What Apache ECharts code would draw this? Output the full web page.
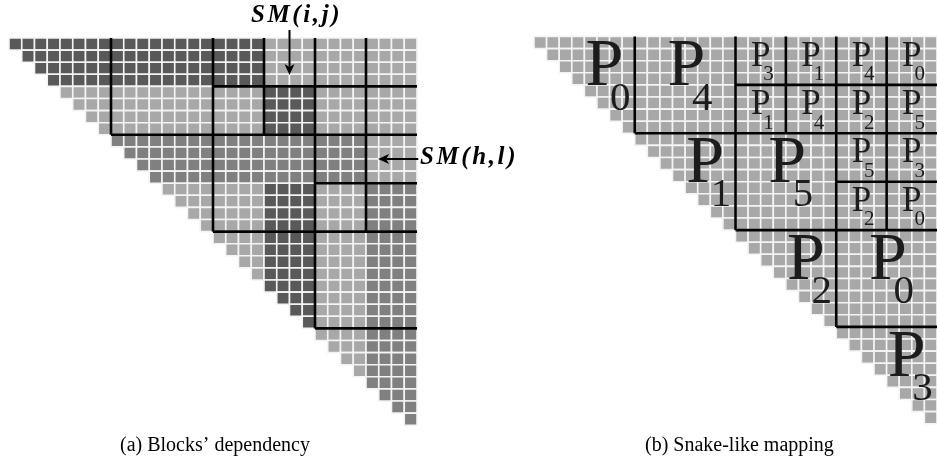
<!DOCTYPE html>
<html>
<head>
<meta charset="utf-8">
<script src="https://cdn.jsdelivr.net/npm/echarts@6/dist/echarts.min.js"></script>
<style>
  html, body { margin: 0; padding: 0; background: #fff; }
  #main { width: 937px; height: 468px; }
</style>
</head>
<body>
<div id="main"></div>
<script>
const N = 32;      // cells per side of the matrix
const SUB = 4;     // cells per small block

// shade of every 4x4 block, row blocks top->bottom, col blocks left->right
// d = dark, m = medium, l = light, - = empty (below diagonal)
const leftShade = [
  'dddddlll',
  '-lllldll',
  '--mmmmml',
  '---lldlm',
  '----ldlm',
  '-----dlm',
  '------lm',
  '-------m'
];
const rightShade = [
  'llllllll',
  '-lllllll',
  '--llllll',
  '---lllll',
  '----llll',
  '-----lll',
  '------ll',
  '-------l'
];

// thick block borders in cell units: [x1, y1, x2, y2]
const borders = [
  [8, 0, 8, 8], [8, 8, 32, 8],
  [16, 0, 16, 16], [16, 16, 32, 16],
  [24, 0, 24, 24], [24, 24, 32, 24],
  [20, 0, 20, 8], [16, 4, 32, 4],
  [28, 0, 28, 16], [24, 12, 32, 12]
];

// processor of each 8x8 block: [block row, block col, processor]
const bigBlocks = [
  [0, 0, 0], [0, 1, 4],
  [1, 1, 1], [1, 2, 5],
  [2, 2, 2], [2, 3, 0],
  [3, 3, 3]
];
// processor of each 4x4 block: [block row, block col, processor]
const smallBlocks = [
  [0, 4, 3], [0, 5, 1], [0, 6, 4], [0, 7, 0],
  [1, 4, 1], [1, 5, 4], [1, 6, 2], [1, 7, 5],
  [2, 6, 5], [2, 7, 3],
  [3, 6, 2], [3, 7, 0]
];

// dependency arrows on the left matrix: [x1, y1, x2(tip), y2(tip)]
const arrows = [
  [22, -0.66, 22, 3.05],
  [32.1, 10, 28.95, 10]
];

const COLORS = ['#595959', '#808080', '#a8a8a8'];
const SERIF = '"Liberation Serif", "DejaVu Serif", serif';

function cellsFrom(shade) {
  const out = [];
  for (let r = 0; r < N; r++) {
    for (let c = r; c < N; c++) {
      const k = shade[Math.floor(r / SUB)][Math.floor(c / SUB)];
      out.push([c, r, 'dml'.indexOf(k)]);
    }
  }
  return out;
}

function labelData() {
  const out = [];
  bigBlocks.forEach(([br, bc, p]) => {
    const diag = br === bc;
    const px = bc * 8 + (diag ? 5.6 : 4.1);
    out.push([px, br * 8 + 2.55, px + 1.25, br * 8 + 5.15, p, 1]);
  });
  smallBlocks.forEach(([br, bc, p]) => {
    const px = bc * 4 + 2.0;
    out.push([px, br * 4 + 1.65, px + 0.63, br * 4 + 3.15, p, 0]);
  });
  return out;
}

function cellItem(params, api) {
  const a = api.coord([api.value(0), api.value(1)]);
  const b = api.coord([api.value(0) + 1, api.value(1) + 1]);
  return {
    type: 'rect',
    shape: { x: a[0], y: a[1], width: b[0] - a[0], height: b[1] - a[1] },
    style: { fill: COLORS[api.value(2)], stroke: '#f4f4f4', lineWidth: 1.6 }
  };
}

function borderItem(params, api) {
  const a = api.coord([api.value(0), api.value(1)]);
  const b = api.coord([api.value(2), api.value(3)]);
  return {
    type: 'line',
    shape: { x1: a[0], y1: a[1], x2: b[0], y2: b[1] },
    style: { stroke: '#000', lineWidth: 2.6 }
  };
}

function arrowItem(params, api) {
  const a = api.coord([api.value(0), api.value(1)]);
  const b = api.coord([api.value(2), api.value(3)]);
  const dx = b[0] - a[0], dy = b[1] - a[1];
  const len = Math.sqrt(dx * dx + dy * dy);
  const ux = dx / len, uy = dy / len;
  const hl = 11, hw = 5;
  const bx = b[0] - ux * hl, by = b[1] - uy * hl;
  return {
    type: 'group',
    children: [
      { type: 'line', shape: { x1: a[0], y1: a[1], x2: bx + ux * 3, y2: by + uy * 3 },
        style: { stroke: '#000', lineWidth: 2 } },
      { type: 'polygon', shape: { points: [
          [b[0], b[1]],
          [bx - uy * hw, by + ux * hw],
          [bx + ux * 3, by + uy * 3],
          [bx + uy * hw, by - ux * hw]
        ] }, style: { fill: '#000' } }
    ]
  };
}

function labelItem(params, api) {
  const big = api.value(5) === 1;
  const p = api.coord([api.value(0), api.value(1)]);
  const d = api.coord([api.value(2), api.value(3)]);
  return {
    type: 'group',
    children: [
      { type: 'text', style: { text: 'P', x: p[0], y: p[1], align: 'center', verticalAlign: 'middle',
          font: (big ? 68 : 35) + 'px ' + SERIF, fill: '#1c1c1c' } },
      { type: 'text', style: { text: String(api.value(4)), x: d[0], y: d[1], align: 'center', verticalAlign: 'middle',
          font: (big ? 41 : 21) + 'px ' + SERIF, fill: '#1c1c1c' } }
    ]
  };
}

// spaced bold italic math-like label
function smText(str) {
  return str.split('').map(ch => '{g|' + ch + '}').join('');
}
const smRich = { g: { font: 'bold italic 25px ' + SERIF, fill: '#000', padding: [0, 1.3] } };

const W = 408, H = 387.2;
const axisBase = { type: 'value', min: 0, max: N, show: false };

const chart = echarts.init(document.getElementById('main'));
chart.setOption({
  animation: false,
  grid: [
    { left: 9, top: 38, width: W, height: H },
    { left: 534, top: 36.5, width: W, height: H }
  ],
  xAxis: [
    Object.assign({ gridIndex: 0 }, axisBase),
    Object.assign({ gridIndex: 1 }, axisBase)
  ],
  yAxis: [
    Object.assign({ gridIndex: 0, inverse: true }, axisBase),
    Object.assign({ gridIndex: 1, inverse: true }, axisBase)
  ],
  graphic: [
    { type: 'text', left: 251, top: 3, style: { text: smText('SM(i,j)'), rich: smRich } },
    { type: 'text', left: 420, top: 145, style: { text: smText('SM(h,l)'), rich: smRich } },
    { type: 'text', left: 120, top: 436, style: { text: '(a) Blocks\u2019 dependency', font: '20px ' + SERIF, fill: '#000' } },
    { type: 'text', left: 645, top: 436, style: { text: '(b) Snake-like mapping', font: '20px ' + SERIF, fill: '#000' } }
  ],
  series: [
    { type: 'custom', xAxisIndex: 0, yAxisIndex: 0, data: cellsFrom(leftShade), renderItem: cellItem },
    { type: 'custom', xAxisIndex: 1, yAxisIndex: 1, data: cellsFrom(rightShade), renderItem: cellItem },
    { type: 'custom', xAxisIndex: 0, yAxisIndex: 0, data: borders, renderItem: borderItem },
    { type: 'custom', xAxisIndex: 1, yAxisIndex: 1, data: borders, renderItem: borderItem },
    { type: 'custom', xAxisIndex: 0, yAxisIndex: 0, data: arrows, renderItem: arrowItem, clip: false },
    { type: 'custom', xAxisIndex: 1, yAxisIndex: 1, data: labelData(), renderItem: labelItem, clip: false }
  ]
});
</script>
</body>
</html>
